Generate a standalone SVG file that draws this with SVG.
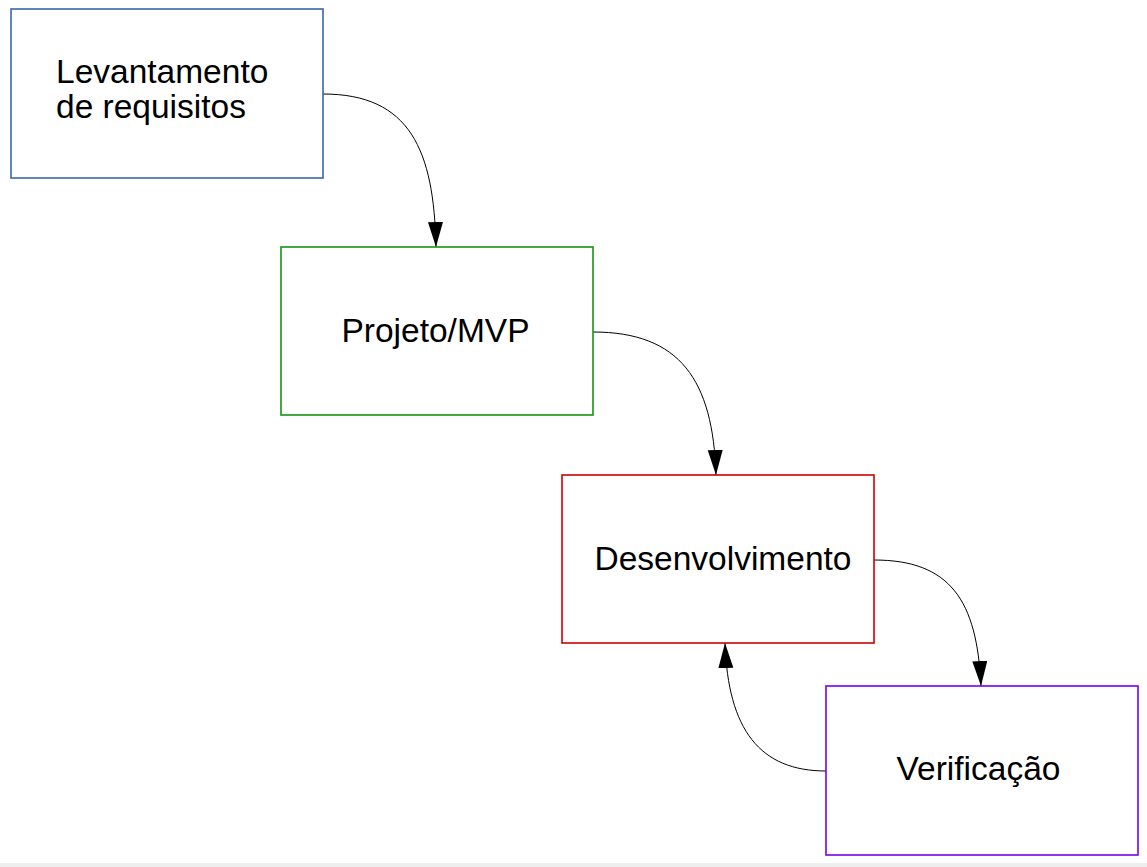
<svg xmlns="http://www.w3.org/2000/svg" width="1147" height="867" viewBox="0 0 1147 867">
<style>
.box{fill:#ffffff;stroke-width:1.6}
.lbl{font-family:"Liberation Sans",Arial,sans-serif;font-size:33.5px;fill:#000000}
.conn{fill:none;stroke:#000000;stroke-width:1}
</style>
<defs>
<marker id="arrow" markerUnits="userSpaceOnUse" markerWidth="26" markerHeight="16" refX="25" refY="7.5" orient="auto">
<path d="M0,0 L25,7.5 L0,15 Z" fill="#000000"/>
</marker>
</defs>
<rect x="0" y="863" width="1147" height="4" fill="#eeeeee"/>
<g id="connectors">
<path class="conn" d="M323,94 C410,94 434,150 436,247" marker-end="url(#arrow)"/>
<path class="conn" d="M593,332 C680,332 713,380 716,475" marker-end="url(#arrow)"/>
<path class="conn" d="M874,560 C950,560 977,600 981,686" marker-end="url(#arrow)"/>
<path class="conn" d="M826,771 C760,771 728,730 725,643" marker-end="url(#arrow)"/>
</g>
<g id="node-levantamento">
<rect class="box" x="11" y="9" width="312" height="169" stroke="#3a66b0"/>
<text class="lbl" x="56" y="83">Levantamento</text>
<text class="lbl" x="56" y="118">de requisitos</text>
</g>
<g id="node-projeto">
<rect class="box" x="281" y="247" width="312" height="168" stroke="#149414"/>
<text class="lbl" x="435.5" y="342" text-anchor="middle">Projeto/MVP</text>
</g>
<g id="node-desenvolvimento">
<rect class="box" x="562" y="475" width="312" height="168" stroke="#cc0000"/>
<text class="lbl" x="723" y="570" text-anchor="middle">Desenvolvimento</text>
</g>
<g id="node-verificacao">
<rect class="box" x="826" y="686" width="312" height="169" stroke="#7700f0"/>
<text class="lbl" x="978.5" y="780" text-anchor="middle">Verificação</text>
</g>
</svg>
